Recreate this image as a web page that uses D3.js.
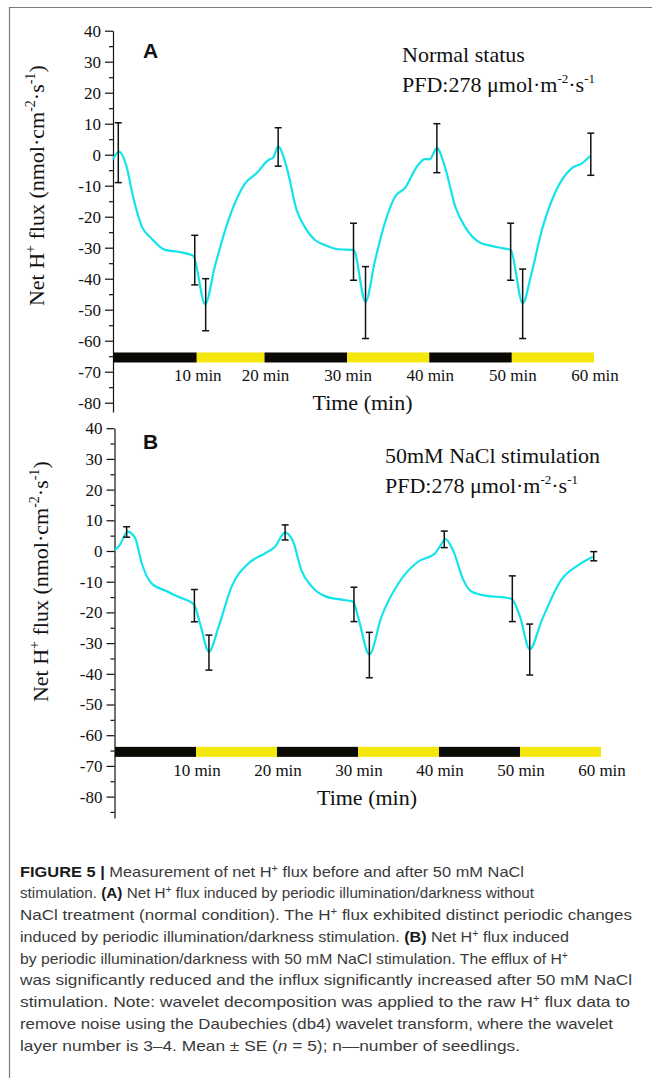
<!DOCTYPE html>
<html>
<head>
<meta charset="utf-8">
<script src="https://cdn.jsdelivr.net/npm/d3@7"></script>
<style>
  body { margin: 0; background: #fff; }
  svg { display: block; }
</style>
</head>
<body>
<svg id="fig"></svg>
<script>
// ---- data ----
const minuteLabels = ['10 min', '20 min', '30 min', '40 min', '50 min', '60 min'];
const majorTicks = [-80, -70, -60, -50, -40, -30, -20, -10, 0, 10, 20, 30, 40];
const minorTicks = [-85, -75, -65, -55, -45, -35, -25, -15, -5, 5, 15, 25, 35];

// dark / light period boundaries (min)
const periodsA = [0, 10.45, 18.9, 29.2, 39.45, 49.75, 60];
const periodsB = [0, 10, 20, 30, 40, 50, 60];

// panel A: normal status
const timeA = [0, 0.75, 1.7, 2.5, 3.6, 4.8, 6.5, 8.1, 10.0, 11.5, 12.7, 14.4, 16.5, 17.9, 19.4, 20.0, 20.6,
  21.7, 22.9, 23.9, 25.2, 26.4, 28.1, 30.0, 31.5, 32.7, 33.9, 35.2, 36.4, 37.9, 38.9, 39.5, 40.4,
  41.4, 42.7, 43.9, 45.6, 47.2, 48.7, 49.6, 51.1, 52.2, 53.5, 55.1, 57.2, 58.5, 59.5];
const fluxA = [-1.5, 1.0, -3.9, -13.5, -23.2, -27.0, -30.7, -31.3, -32.6, -48.2, -36.1, -21.1, -9.2, -6.0, -1.7, -0.9, 2.6,
  -4.4, -17.8, -23.2, -27.5, -29.1, -30.5, -30.7, -47.4, -34.0, -22.1, -13.5, -10.8, -3.9, -1.4, -1.5, 2.1,
  -3.9, -16.8, -23.2, -28.1, -29.4, -30.2, -30.7, -47.9, -38.3, -24.3, -12.5, -4.4, -2.8, -0.4];
const errTimeA = [0.66, 10.2, 11.56, 20.6, 30.0, 31.5, 40.4, 49.6, 51.1, 59.6];
const errMeanA = [0.65, -34.0, -48.4, 2.5, -31.3, -47.7, 2.1, -31.3, -48.1, 0.15];
const errSeA = [9.65, 8.0, 8.4, 6.2, 9.2, 11.6, 7.9, 9.2, 11.2, 6.8];

// panel B: 50 mM NaCl
const timeB = [0, 0.6, 1.56, 2.5, 3.3, 4.5, 6.2, 7.8, 9.75, 10.5, 11.6, 12.8, 14.4, 16.5, 18.5, 19.75, 21.0,
  22.0, 23.0, 24.3, 25.9, 27.6, 29.4, 30.0, 31.4, 32.9, 35.0, 37.4, 39.5, 40.1, 40.8,
  41.8, 43.0, 44.0, 46.1, 48.1, 49.0, 50.0, 51.2, 52.7, 55.1, 57.2, 59.0];
const fluxB = [0.3, 2.0, 6.3, 4.1, -4.0, -10.5, -12.9, -14.9, -17.4, -23.6, -32.8, -24.6, -11.6, -4.0, -0.8, 1.4, 6.0,
  3.0, -6.2, -11.6, -14.7, -15.7, -16.5, -21.4, -33.7, -21.4, -10.5, -3.5, -0.8, 1.4, 3.9,
  -0.2, -9.4, -13.2, -14.7, -15.1, -15.7, -21.4, -32.0, -22.5, -9.4, -4.6, -1.9];
const errTimeB = [1.44, 9.8, 11.6, 21.0, 29.5, 31.4, 40.65, 49.05, 51.2, 59.1];
const errMeanB = [6.2, -17.8, -33.1, 6.05, -17.4, -33.9, 3.8, -15.55, -32.1, -1.7];
const errSeB = [1.7, 5.25, 5.7, 2.45, 5.6, 7.4, 2.7, 7.45, 8.3, 1.5];

// caption lines (runs: b bold, i italic, sup superscript)
const captionLines = [
  [{t: 'FIGURE 5 | ', b: 1}, {t: 'Measurement of net H'}, {t: '+', sup: 1}, {t: ' flux before and after 50 mM NaCl'}],
  [{t: 'stimulation. '}, {t: '(A)', b: 1}, {t: ' Net H'}, {t: '+', sup: 1}, {t: ' flux induced by periodic illumination/darkness without'}],
  [{t: 'NaCl treatment (normal condition). The H'}, {t: '+', sup: 1}, {t: ' flux exhibited distinct periodic changes'}],
  [{t: 'induced by periodic illumination/darkness stimulation. '}, {t: '(B)', b: 1}, {t: ' Net H'}, {t: '+', sup: 1}, {t: ' flux induced'}],
  [{t: 'by periodic illumination/darkness with 50 mM NaCl stimulation. The efflux of H'}, {t: '+', sup: 1}],
  [{t: 'was significantly reduced and the influx significantly increased after 50 mM NaCl'}],
  [{t: 'stimulation. Note: wavelet decomposition was applied to the raw H'}, {t: '+', sup: 1}, {t: ' flux data to'}],
  [{t: 'remove noise using the Daubechies (db4) wavelet transform, where the wavelet'}],
  [{t: 'layer number is 3–4. Mean ± SE ('}, {t: 'n', i: 1}, {t: ' = 5); n—number of seedlings.'}]
];
const captionEnds = [524, 534, 632, 569, 568, 632, 630, 613, 520];

// ---- drawing ----
const W = 652, H = 1078;
const serif = '"Liberation Serif", "Times New Roman", serif';
const svg = d3.select('#fig').attr('width', W).attr('height', H);

// frame
svg.append('line').attr('x1', 9).attr('x2', W).attr('y1', 7.5).attr('y2', 7.5)
  .attr('stroke', '#7a7a7a').attr('stroke-width', 1.2);
svg.append('line').attr('x1', 9.5).attr('x2', 9.5).attr('y1', 7).attr('y2', H)
  .attr('stroke', '#7a7a7a').attr('stroke-width', 1.2);

// write runs of text with superscripts into a <text>
function addRuns(text, runs, supSize, supShift) {
  let shift = 0;
  runs.forEach(r => {
    const ts = text.append('tspan').text(r.t);
    const target = r.sup ? -supShift : 0;
    if (target !== shift) { ts.attr('dy', target - shift); shift = target; }
    if (r.sup) ts.attr('font-size', supSize);
    if (r.b) ts.attr('font-weight', 'bold').attr('fill', '#1a1a1a');
    if (r.i) ts.attr('font-style', 'italic');
  });
}

const fluxTitle = [{t: 'Net H'}, {t: '+', sup: 1}, {t: ' flux (nmol·cm'}, {t: '-2', sup: 1},
  {t: '·s'}, {t: '-1', sup: 1}, {t: ')'}];
const pfdText = [{t: 'PFD:278 μmol·m'}, {t: '-2', sup: 1}, {t: '·s'}, {t: '-1', sup: 1}];

function drawPanel(p) {
  const x = d3.scaleLinear().domain([0, 60]).range(p.xRange);
  const y = d3.scaleLinear().domain(p.yDomain).range(p.yRange);
  const g = svg.append('g');

  // y axis, major + minor ticks
  const ax = g.append('g')
    .attr('transform', `translate(${p.axisX},0)`)
    .call(d3.axisLeft(y).tickValues(majorTicks).tickSize(8).tickSizeOuter(0).tickPadding(4)
      .tickFormat(d => String(d)));
  ax.selectAll('text').attr('font-family', serif).attr('font-size', 17).attr('fill', '#111');
  ax.selectAll('line, path').attr('stroke', '#111').attr('stroke-width', 1.2);

  const mx = g.append('g')
    .attr('transform', `translate(${p.axisX},0)`)
    .call(d3.axisLeft(y).tickValues(minorTicks.filter(v => v >= p.yDomain[0])).tickSize(4).tickFormat(''));
  mx.select('.domain').remove();
  mx.selectAll('line').attr('stroke', '#111').attr('stroke-width', 1.2);

  // light / dark bar
  const periods = p.periods;
  const barTop = y(-63.8);
  g.append('g').selectAll('rect')
    .data(d3.range(periods.length - 1))
    .join('rect')
    .attr('x', i => x(periods[i]))
    .attr('width', i => x(periods[i + 1]) - x(periods[i]))
    .attr('y', barTop)
    .attr('height', 10)
    .attr('fill', i => i % 2 === 0 ? '#0b0a05' : '#f4e70c');

  g.append('g').selectAll('text')
    .data(minuteLabels)
    .join('text')
    .attr('x', (d, i) => x(periods[i + 1]) + 1)
    .attr('y', barTop + 29)
    .attr('text-anchor', 'middle')
    .attr('font-family', serif).attr('font-size', 17).attr('fill', '#111')
    .text(d => d);

  // axis titles
  g.append('text')
    .attr('x', (p.xRange[0] + p.xRange[1]) / 2 + 9)
    .attr('y', barTop + 58)
    .attr('text-anchor', 'middle')
    .attr('font-family', serif).attr('font-size', 22).attr('fill', '#111')
    .text('Time (min)');

  const yt = g.append('text')
    .attr('transform', `translate(${p.titleX},${y(-10)}) rotate(-90)`)
    .attr('text-anchor', 'middle')
    .attr('font-family', serif).attr('font-size', 22).attr('fill', '#111');
  addRuns(yt, fluxTitle, 14, 9);

  // panel letter and annotation
  g.append('text')
    .attr('x', 143).attr('y', p.letterY)
    .attr('font-family', '"Liberation Sans", Arial, sans-serif')
    .attr('font-weight', 'bold').attr('font-size', 21).attr('fill', '#111')
    .text(p.letter);

  g.append('text')
    .attr('x', p.noteX).attr('y', p.noteY)
    .attr('font-family', serif).attr('font-size', 22).attr('fill', '#111')
    .text(p.note);
  const pfd = g.append('text')
    .attr('x', p.noteX).attr('y', p.noteY + 30)
    .attr('font-family', serif).attr('font-size', 22).attr('fill', '#111');
  addRuns(pfd, pfdText, 13, 9);

  // flux curve
  const pts = p.time.map((t, i) => [t, p.flux[i]]);
  g.append('path')
    .datum(pts)
    .attr('fill', 'none')
    .attr('stroke', '#12e4ea')
    .attr('stroke-width', 2.2)
    .attr('d', d3.line().x(d => x(d[0])).y(d => y(d[1])).curve(d3.curveMonotoneX));

  // error bars (mean ± SE)
  const eb = g.append('g').attr('stroke', '#111').attr('stroke-width', 1.5);
  p.errTime.forEach((t, i) => {
    const cx = x(t);
    const hi = y(p.errMean[i] + p.errSe[i]);
    const lo = y(p.errMean[i] - p.errSe[i]);
    eb.append('line').attr('x1', cx).attr('x2', cx).attr('y1', hi).attr('y2', lo);
    eb.append('line').attr('x1', cx - 3.5).attr('x2', cx + 3.5).attr('y1', hi).attr('y2', hi);
    eb.append('line').attr('x1', cx - 3.5).attr('x2', cx + 3.5).attr('y1', lo).attr('y2', lo);
  });
}

drawPanel({
  letter: 'A', letterY: 58, note: 'Normal status', noteX: 402, noteY: 62,
  xRange: [113, 594], axisX: 113, titleX: 43.5,
  yDomain: [-83, 40], yRange: [154.7 + 3.1 * 83, 154.7 - 3.1 * 40],
  periods: periodsA, time: timeA, flux: fluxA,
  errTime: errTimeA, errMean: errMeanA, errSe: errSeA
});

drawPanel({
  letter: 'B', letterY: 449, note: '50mM NaCl stimulation', noteX: 385, noteY: 462.5,
  xRange: [115, 601], axisX: 114.5, titleX: 48,
  yDomain: [-87, 40], yRange: [551 + 3.07 * 87, 551 - 3.07 * 40],
  periods: periodsB, time: timeB, flux: fluxB,
  errTime: errTimeB, errMean: errMeanB, errSe: errSeB
});

// caption
const cap = svg.append('g')
  .attr('font-family', '"Liberation Sans", Arial, sans-serif')
  .attr('font-size', 15)
  .attr('fill', '#3a3a3a');
captionLines.forEach((runs, i) => {
  const t = cap.append('text')
    .attr('x', 20)
    .attr('y', 876.5 + i * 21.75)
    .attr('textLength', captionEnds[i] - 20)
    .attr('lengthAdjust', 'spacingAndGlyphs');
  addRuns(t, runs, 10, 5);
});
</script>
</body>
</html>
